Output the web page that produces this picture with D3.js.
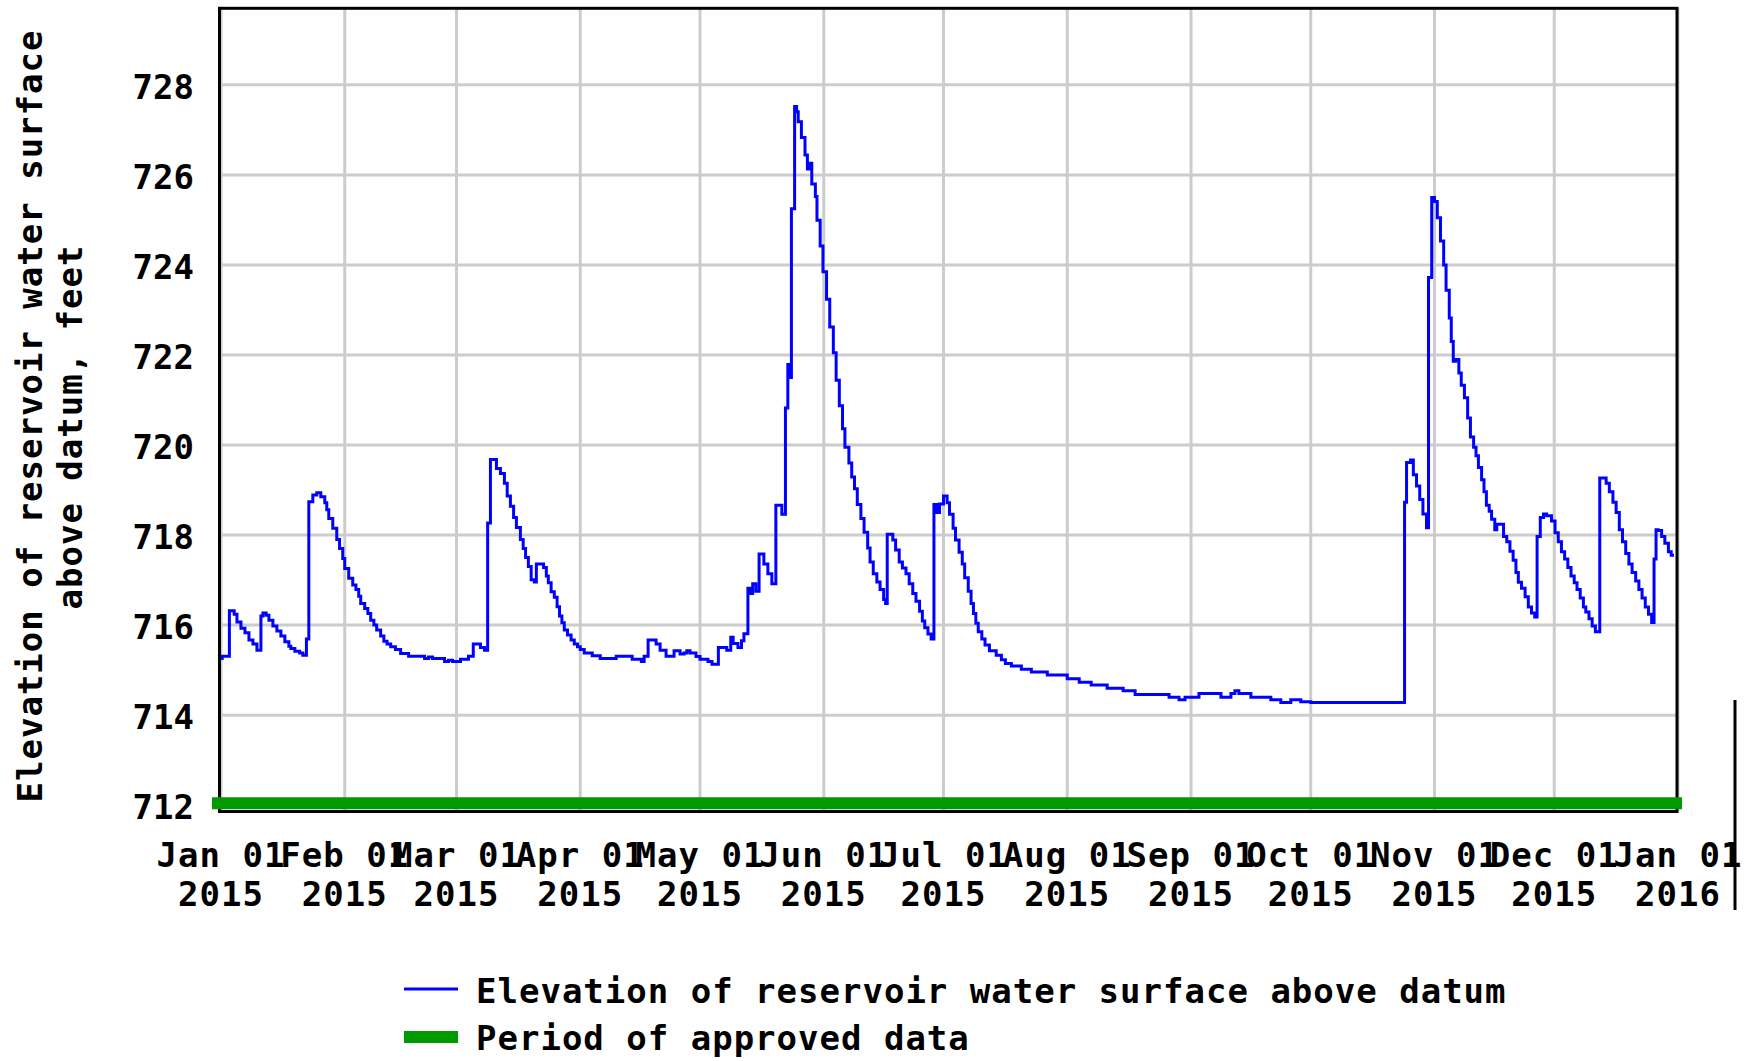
<!DOCTYPE html>
<html>
<head>
<meta charset="utf-8">
<script src="https://cdn.jsdelivr.net/npm/d3@7"></script>
<style>
  body { margin: 0; background: #fff; }
  text { font-family: "DejaVu Sans Mono", monospace; font-weight: bold; fill: #000; }
</style>
</head>
<body>
<div id="chart"></div>
<script>
// 0. data
// days since 2015-01-01 00:00 (UTC) and the reservoir elevation, feet
var dayOffset = [
  0, 0.3, 2.1, 3.3, 4, 5, 6, 7, 8, 9, 10, 10.5, 11.3, 12, 13, 14, 15, 16, 17, 17.5,
  18.5, 19.7, 20.5, 21.4, 22, 23, 24, 25, 26, 26.5, 27, 28, 29, 29.7, 30.5, 31, 32, 33, 33.8, 34.5,
  35, 36, 36.8, 37.5, 38.3, 39, 40, 40.8, 41.6, 42.5, 43.7, 45, 47, 51, 52, 53, 56, 57, 58, 60,
  62, 63.2, 65, 66, 66.8, 67.5, 69, 70, 71, 71.7, 72.5, 73.3, 74, 75, 75.7, 76.3, 77, 77.7, 78.5, 79,
  80.8, 81.5, 82, 82.7, 83.5, 84.2, 84.8, 85.4, 86, 86.8, 87.7, 88.5, 89.3, 90, 91, 93, 95, 99, 103, 105.3,
  106, 107, 109, 110, 111.5, 113.5, 115, 116, 116.7, 117.5, 119, 120, 122, 123, 124.6, 126.7, 127.7, 128.3, 129.5, 130.4,
  131, 132, 132.7, 133.2, 134, 134.8, 136, 137, 138, 139, 140.5, 141.4, 142, 142.4, 142.9, 143.7, 144.2, 144.6, 145.4, 146.3,
  146.9, 147.5, 148, 148.9, 149.3, 150.1, 150.8, 151.7, 152.5, 153.4, 154.1, 154.9, 155.7, 156.3, 157.3, 158, 158.7, 159.4, 160.3, 161.1,
  162, 162.6, 163.4, 164.3, 165.1, 166, 166.5, 166.9, 168.3, 169, 169.9, 170.7, 171.6, 172.4, 173.3, 174.1, 175, 175.7, 176.3, 177.1,
  177.9, 178.6, 179.3, 180, 181, 181.9, 182.5, 183.4, 184, 184.9, 185.7, 186.3, 187.2, 187.9, 188.5, 189.1, 189.7, 190.6, 191.4, 192.5,
  194.2, 195.5, 196.5, 198, 200.5, 203, 207, 212, 215, 218, 222, 226, 229, 237.5, 240, 241.5, 245, 250.5, 253, 254,
  255, 258, 263, 265.5, 268, 270.5, 273, 296.5, 297, 298, 298.7, 299.5, 300.3, 301.1, 302, 302.5, 303.3, 304, 304.7, 305.5,
  306.3, 306.9, 307.7, 308.2, 308.7, 309.3, 310.1, 310.7, 311.5, 312.3, 313, 313.8, 314.4, 315, 315.8, 316.4, 317, 317.7, 318.3, 319.1,
  319.6, 320.5, 321.3, 322.1, 322.9, 323.7, 324.4, 325, 325.8, 326.7, 327.5, 328.3, 329.1, 329.7, 330.5, 331.3, 332.1, 333.3, 334.2, 335,
  335.8, 336.6, 337.4, 338.2, 339, 339.7, 340.5, 341.3, 341.9, 342.7, 343.5, 344.3, 345.4, 347, 347.8, 348.7, 349.5, 350.3, 351.1, 351.9,
  352.7, 353.5, 354.4, 355.2, 356, 356.8, 357.6, 358.4, 359, 359.5, 360, 360.9, 361.7, 362.6, 363.3, 364
];
var elevation = [
  715.26, 715.31, 716.32, 716.24, 716.07, 715.93, 715.83, 715.67, 715.58, 715.44, 716.20, 716.27, 716.22, 716.11, 715.98, 715.87, 715.76, 715.63, 715.53, 715.48,
  715.42, 715.38, 715.33, 715.69, 718.74, 718.89, 718.94, 718.85, 718.72, 718.56, 718.37, 718.15, 717.90, 717.70, 717.48, 717.26, 717.04, 716.89, 716.79, 716.64,
  716.48, 716.37, 716.26, 716.11, 716.00, 715.89, 715.76, 715.64, 715.58, 715.52, 715.46, 715.37, 715.31, 715.26, 715.29, 715.26, 715.19, 715.22, 715.19, 715.24,
  715.31, 715.58, 715.50, 715.44, 718.27, 719.68, 719.48, 719.37, 719.15, 718.87, 718.64, 718.39, 718.17, 717.90, 717.70, 717.50, 717.30, 717.01, 716.96, 717.36,
  717.28, 717.09, 716.94, 716.74, 716.62, 716.41, 716.20, 716.05, 715.89, 715.78, 715.67, 715.58, 715.52, 715.46, 715.38, 715.32, 715.26, 715.31, 715.24, 715.19,
  715.31, 715.67, 715.58, 715.44, 715.31, 715.43, 715.36, 715.38, 715.43, 715.38, 715.30, 715.24, 715.19, 715.13, 715.50, 715.44, 715.73, 715.59, 715.50, 715.65,
  715.81, 716.82, 716.70, 716.92, 716.75, 717.58, 717.36, 717.14, 716.92, 718.66, 718.46, 720.82, 721.79, 721.50, 725.25, 727.52, 727.40, 727.18, 726.83, 726.44,
  726.13, 726.26, 725.80, 725.52, 724.99, 724.42, 723.85, 723.24, 722.62, 722.05, 721.44, 720.87, 720.36, 719.95, 719.60, 719.29, 719.03, 718.68, 718.37, 718.06,
  717.71, 717.40, 717.14, 716.96, 716.79, 716.57, 716.48, 718.02, 717.89, 717.67, 717.40, 717.27, 717.14, 716.92, 716.70, 716.53, 716.31, 716.09, 715.94, 715.80,
  715.69, 718.68, 718.50, 718.69, 718.87, 718.72, 718.46, 718.15, 717.89, 717.62, 717.36, 717.05, 716.75, 716.48, 716.26, 716.04, 715.85, 715.69, 715.56, 715.43,
  715.33, 715.23, 715.15, 715.09, 715.02, 714.96, 714.89, 714.81, 714.73, 714.67, 714.60, 714.54, 714.46, 714.40, 714.34, 714.40, 714.48, 714.40, 714.48, 714.54,
  714.48, 714.40, 714.34, 714.28, 714.34, 714.30, 714.28, 718.73, 719.61, 719.67, 719.34, 719.09, 718.79, 718.47, 718.16, 723.72, 725.50, 725.41, 725.05, 724.53,
  724.00, 723.44, 722.82, 722.30, 721.86, 721.90, 721.60, 721.33, 721.05, 720.60, 720.18, 719.95, 719.76, 719.50, 719.23, 718.96, 718.66, 718.53, 718.35, 718.12,
  718.24, 718.24, 717.97, 717.85, 717.64, 717.44, 717.17, 716.95, 716.82, 716.63, 716.40, 716.27, 716.18, 717.97, 718.39, 718.47, 718.43, 718.31, 718.05, 717.85,
  717.63, 717.47, 717.28, 717.09, 716.94, 716.79, 716.60, 716.40, 716.29, 716.14, 715.98, 715.85, 719.27, 719.15, 718.96, 718.73, 718.50, 718.12, 717.85, 717.59,
  717.36, 717.17, 716.98, 716.79, 716.60, 716.40, 716.24, 716.06, 717.47, 718.12, 718.10, 717.97, 717.82, 717.63, 717.55, 717.55
];
var yTicks = [712, 714, 716, 718, 720, 722, 724, 726, 728];
var tickDates = ["2015-01-01", "2015-02-01", "2015-03-01", "2015-04-01", "2015-05-01", "2015-06-01",
                 "2015-07-01", "2015-08-01", "2015-09-01", "2015-10-01", "2015-11-01", "2015-12-01", "2016-01-01"];
var tickMonth = ["Jan 01", "Feb 01", "Mar 01", "Apr 01", "May 01", "Jun 01", "Jul 01",
                 "Aug 01", "Sep 01", "Oct 01", "Nov 01", "Dec 01", "Jan 01"];
var tickYear = ["2015", "2015", "2015", "2015", "2015", "2015", "2015",
                "2015", "2015", "2015", "2015", "2015", "2016"];
var approvedPeriod = ["2015-01-01", "2016-01-01"];
var approvedLevel = 712;
var yTitle = ["Elevation of reservoir water surface", "above datum, feet"];
var legendLabels = ["Elevation of reservoir water surface above datum", "Period of approved data"];

// 0.1 size
var W = 1749, H = 1061;
var plot = {left: 219.5, right: 1677, top: 8.3, bottom: 811.5};

var parse = d3.utcParse("%Y-%m-%d");
var base = Date.UTC(2015, 0, 1);

var x = d3.scaleUtc()
    .domain([parse("2015-01-01"), parse("2016-01-01")])
    .range([221, 1678]);
var y = d3.scaleLinear()
    .domain([711.86, 729.7])
    .range([plot.bottom, plot.top]);

var series = dayOffset.map(function (d, i) {
    return {date: new Date(base + d * 864e5), v: elevation[i]};
});

// 1. DOM
var svg = d3.select("#chart").append("svg")
    .attr("width", W).attr("height", H);

// 2. grid
var ticks = tickDates.map(function (d) { return parse(d); });
svg.append("g").selectAll("line").data(ticks).enter().append("line")
    .attr("x1", function (d) { return x(d); })
    .attr("x2", function (d) { return x(d); })
    .attr("y1", plot.top).attr("y2", plot.bottom)
    .attr("stroke", "#cccccc").attr("stroke-width", 3);
svg.append("g").selectAll("line").data(yTicks).enter().append("line")
    .attr("x1", plot.left).attr("x2", plot.right)
    .attr("y1", function (d) { return y(d); })
    .attr("y2", function (d) { return y(d); })
    .attr("stroke", "#cccccc").attr("stroke-width", 3);

// 3. series
var line = d3.line()
    .x(function (d) { return x(d.date); })
    .y(function (d) { return y(d.v); })
    .curve(d3.curveStepAfter);
svg.append("path").datum(series)
    .attr("d", line)
    .attr("fill", "none")
    .attr("stroke", "#0000ff")
    .attr("stroke-width", 3);

// frame
svg.append("rect")
    .attr("x", plot.left).attr("y", plot.top)
    .attr("width", plot.right - plot.left).attr("height", plot.bottom - plot.top)
    .attr("fill", "none").attr("stroke", "#000").attr("stroke-width", 3);

// approved data bar
svg.append("line")
    .attr("x1", x(parse(approvedPeriod[0])) - 9)
    .attr("x2", x(parse(approvedPeriod[1])) + 4)
    .attr("y1", y(approvedLevel) - 2).attr("y2", y(approvedLevel) - 2)
    .attr("stroke", "#009900").attr("stroke-width", 12);

// edge line at the right of the image, next to the last tick label
svg.append("line")
    .attr("x1", 1735).attr("x2", 1735)
    .attr("y1", 700).attr("y2", 910)
    .attr("stroke", "#000").attr("stroke-width", 3);

// 4. axes text
var axisFont = {size: 34, spacing: 1};
svg.append("g").selectAll("text").data(yTicks).enter().append("text")
    .attr("x", 194).attr("y", function (d) { return y(d) + 14; })
    .attr("text-anchor", "end")
    .style("font-size", axisFont.size + "px")
    .text(function (d) { return d; });

var xl = svg.append("g").selectAll("text").data(ticks).enter().append("text")
    .attr("text-anchor", "middle")
    .style("font-size", axisFont.size + "px")
    .style("letter-spacing", axisFont.spacing + "px");
xl.append("tspan")
    .attr("x", function (d) { return x(d); }).attr("y", 867)
    .text(function (d, i) { return tickMonth[i]; });
xl.append("tspan")
    .attr("x", function (d) { return x(d); }).attr("y", 906)
    .text(function (d, i) { return tickYear[i]; });

// y title, two lines
var titlePos = [[42, 416], [82, 427]];
svg.append("g").selectAll("text").data(yTitle).enter().append("text")
    .attr("transform", function (d, i) {
        return "translate(" + titlePos[i][0] + "," + titlePos[i][1] + ") rotate(-90)";
    })
    .attr("text-anchor", "middle")
    .style("font-size", axisFont.size + "px")
    .style("letter-spacing", axisFont.spacing + "px")
    .text(function (d) { return d; });

// 5. legend
var lg = svg.append("g");
lg.append("line")
    .attr("x1", 404).attr("x2", 458).attr("y1", 989).attr("y2", 989)
    .attr("stroke", "#0000ff").attr("stroke-width", 3);
lg.append("rect")
    .attr("x", 404).attr("y", 1031).attr("width", 54).attr("height", 12)
    .attr("fill", "#009900");
lg.selectAll("text").data(legendLabels).enter().append("text")
    .attr("x", 476)
    .attr("y", function (d, i) { return 1003 + i * 47; })
    .style("font-size", axisFont.size + "px")
    .style("letter-spacing", axisFont.spacing + "px")
    .text(function (d) { return d; });
</script>
</body>
</html>
